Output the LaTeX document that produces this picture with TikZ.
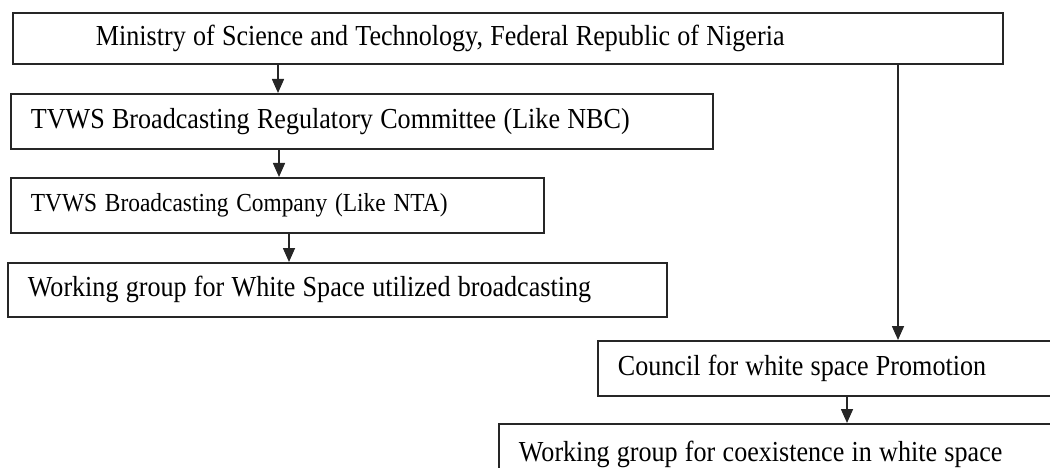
\documentclass[tikz,border=0pt]{standalone}
\usepackage{fontspec}
\setmainfont[FakeStretch=0.9]{Liberation Serif}
\usetikzlibrary{arrows.meta}

\tikzset{
  box/.style={draw=black!85, line width=1.8pt, anchor=north west, align=left,
    inner ysep=0pt, inner xsep=20pt, font=\fontsize{29}{33}\selectfont,
    execute at begin node={\spaceskip=0.25em plus 0.02em\relax}},
  arr/.style={draw=black!85, line width=1.6pt, -{Triangle[width=12pt,length=14pt]}}
}

\begin{document}
\begin{tikzpicture}[x=1pt,y=-1pt]
\clip (0,0) rectangle (1050,468);
% left column
\node[box, inner xsep=83pt, text width=824pt, minimum height=51pt] (ministry) at (12,12)
  {Ministry of Science and Technology, Federal Republic of Nigeria};
\node[box, text width=662pt, minimum height=55pt] (regul) at (10,93)
  {TVWS Broadcasting Regulatory Committee (Like NBC)};
\node[box, text width=493pt, minimum height=55pt, font=\fontsize{26}{30}\selectfont,
  execute at begin node={\spaceskip=0.3em\relax}] (company) at (10,177)
  {TVWS Broadcasting Company (Like NTA)};
\node[box, text width=619pt, minimum height=54pt] (bcgroup) at (7,262)
  {Working group for White Space utilized broadcasting};
% right branch
\node[box, text width=425pt, minimum height=55pt] (council) at (597,340)
  {Council for white space Promotion};
\node[box, text width=530pt, minimum height=62pt] (coexgroup) at (498,423)
  {Working group for coexistence in white space};

\draw[arr] ([xshift=266pt]ministry.south west) coordinate (m1) -- (m1 |- regul.north);
\draw[arr] ([xshift=269pt]regul.south west) coordinate (r1) -- (r1 |- company.north);
\draw[arr] ([xshift=279pt]company.south west) coordinate (c1) -- (c1 |- bcgroup.north);
\draw[arr] ([xshift=886pt]ministry.south west) coordinate (m2) -- (m2 |- council.north);
\draw[arr] ([xshift=250pt]council.south west) coordinate (p1) -- (p1 |- coexgroup.north);
\end{tikzpicture}
\end{document}
